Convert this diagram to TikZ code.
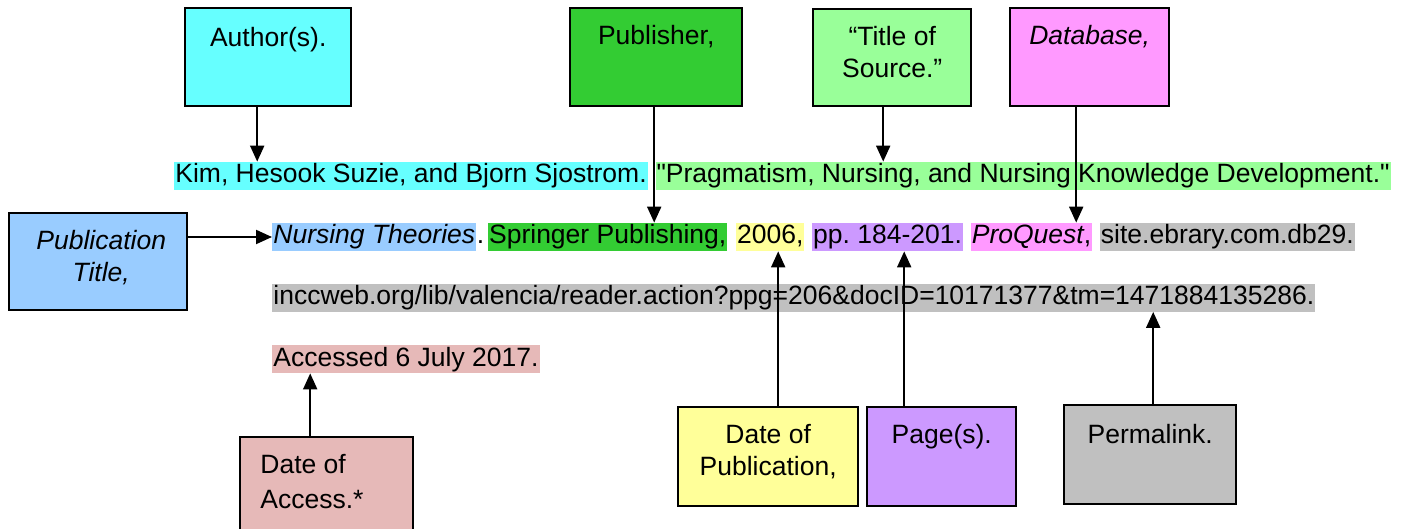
\documentclass[tikz,border=0pt]{standalone}
\usepackage{fontspec}
\setmainfont{Liberation Sans}[Ligatures=TeXOff]
\usetikzlibrary{positioning, arrows.meta}
\frenchspacing

\definecolor{authc}{HTML}{66FFFF}
\definecolor{pubc}{HTML}{33CC33}
\definecolor{titlec}{HTML}{99FF99}
\definecolor{dbc}{HTML}{FF99FF}
\definecolor{ptitc}{HTML}{99CCFF}
\definecolor{yrc}{HTML}{FFFF99}
\definecolor{pgc}{HTML}{CC99FF}
\definecolor{permc}{HTML}{C0C0C0}
\definecolor{accc}{HTML}{E6B9B8}

\tikzset{
  hl/.style={fill=#1, inner xsep=0.5pt, inner ysep=0pt, text height=10.5pt, text depth=3.5pt},
  pl/.style={inner sep=0pt, text height=10.5pt, text depth=3.5pt},
  labbox/.style={draw, line width=1.2pt, fill=#1, inner sep=0pt, anchor=north west},
  boxtxt/.style={inner sep=0pt, align=center},
  arr/.style={line width=1pt, -{Triangle[length=8pt,width=7pt]}}
}

\begin{document}
\begin{tikzpicture}[x=0.5pt, y=-0.5pt, font=\fontsize{13.25}{16}\selectfont]
        \useasboundingbox (0,0) rectangle (1402,529);
        % citation lines
        \node[hl=authc, anchor=west] (kim) at (174,176) {Kim, Hesook Suzie, and Bjorn Sjostrom.};
        \node[hl=titlec, right=3.5pt of kim] (prag) {"Pragmatism, Nursing, and Nursing Knowledge Development."};
        \node[hl=ptitc, anchor=west] (nt) at (272,237) {\itshape Nursing Theories};
        \node[pl, right=0pt of nt] (dot) {.};
        \node[hl=pubc, right=1.5pt of dot] (sp) {Springer Publishing,};
        \node[hl=yrc, right=4pt of sp] (yr) {2006,};
        \node[hl=pgc, right=3.5pt of yr] (pp) {pp. 184-201.};
        \node[hl=dbc, right=3.5pt of pp] (pq) {\itshape ProQuest\upshape,};
        \node[hl=permc, right=3.5pt of pq] (site) {site.ebrary.com.db29.};
        \node[hl=permc, anchor=west] (url) at (272,297.5) {inccweb.org/lib/valencia/reader.action?ppg=206\&docID=10171377\&tm=1471884135286.};
        \node[hl=accc, anchor=west] (acc) at (272,359) {Accessed 6 July 2017.};
        % label boxes
        \node[labbox=authc, minimum width=83pt, minimum height=49pt] (author) at (184,7) {};
        \node[boxtxt, below=10pt of author.north] (author-t) {Author(s).};
        \node[labbox=pubc, minimum width=86pt, minimum height=49pt] (publisher) at (569,7) {};
        \node[boxtxt, below=9pt of publisher.north] (publisher-t) {Publisher,};
        \node[labbox=titlec, minimum width=79pt, minimum height=48.5pt] (title) at (812,8) {};
        \node[boxtxt, below=9pt of title.north] (title-t) {“Title of\\Source.”};
        \node[labbox=dbc, minimum width=79.5pt, minimum height=49pt] (database) at (1009,7) {};
        \node[boxtxt, below=9pt of database.north] (database-t) {\itshape Database,};
        \node[labbox=ptitc, minimum width=89pt, minimum height=48.5pt] (pubtitle) at (8,212) {};
        \node[boxtxt, below=9pt of pubtitle.north, xshift=1.5pt] (pubtitle-t) {\itshape Publication\\\itshape Title,};
        \node[labbox=accc, minimum width=86.5pt, minimum height=50pt] (dacc) at (239,436) {};
        \node[boxtxt, align=left, anchor=north west] (dacc-t) at ([xshift=10.5pt, yshift=-9pt]dacc.north west) {Date of\\[1.5pt]Access.*};
        \node[labbox=yrc, minimum width=90pt, minimum height=49.5pt] (dpub) at (677,406) {};
        \node[boxtxt, below=9pt of dpub.north] (dpub-t) {Date of\\Publication,};
        \node[labbox=pgc, minimum width=74.5pt, minimum height=49.5pt] (pages) at (866,406) {};
        \node[boxtxt, below=9pt of pages.north] (pages-t) {Page(s).};
        \node[labbox=permc, minimum width=86pt, minimum height=49.5pt] (perm) at (1063,404) {};
        \node[boxtxt, below=10pt of perm.north] (perm-t) {Permalink.};
        % connectors
        \draw[arr] ([xshift=-5.5pt]author.south) -- ([xshift=-5.5pt]author.south |- kim.north);
        \draw[arr] ([xshift=-1pt]publisher.south) -- ([xshift=-1pt]publisher.south |- sp.north);
        \draw[arr] ([xshift=-4.5pt]title.south) -- ([xshift=-4.5pt]title.south |- prag.north);
        \draw[arr] ([xshift=-6.75pt]database.south) -- ([xshift=-6.75pt]database.south |- pq.north);
        \draw[arr] (pubtitle.east |- nt.west) -- (nt.west);
        \draw[arr] ([xshift=-8.25pt]dacc.north) -- ([xshift=-8.25pt]dacc.north |- acc.south);
        \draw[arr] ([xshift=5pt]dpub.north) -- ([xshift=5pt]dpub.north |- yr.south);
        \draw[arr] ([xshift=-18.75pt]pages.north) -- ([xshift=-18.75pt]pages.north |- pp.south);
        \draw[arr] ([xshift=1.5pt]perm.north) -- ([xshift=1.5pt]perm.north |- url.south);
      \end{tikzpicture}
\end{document}
